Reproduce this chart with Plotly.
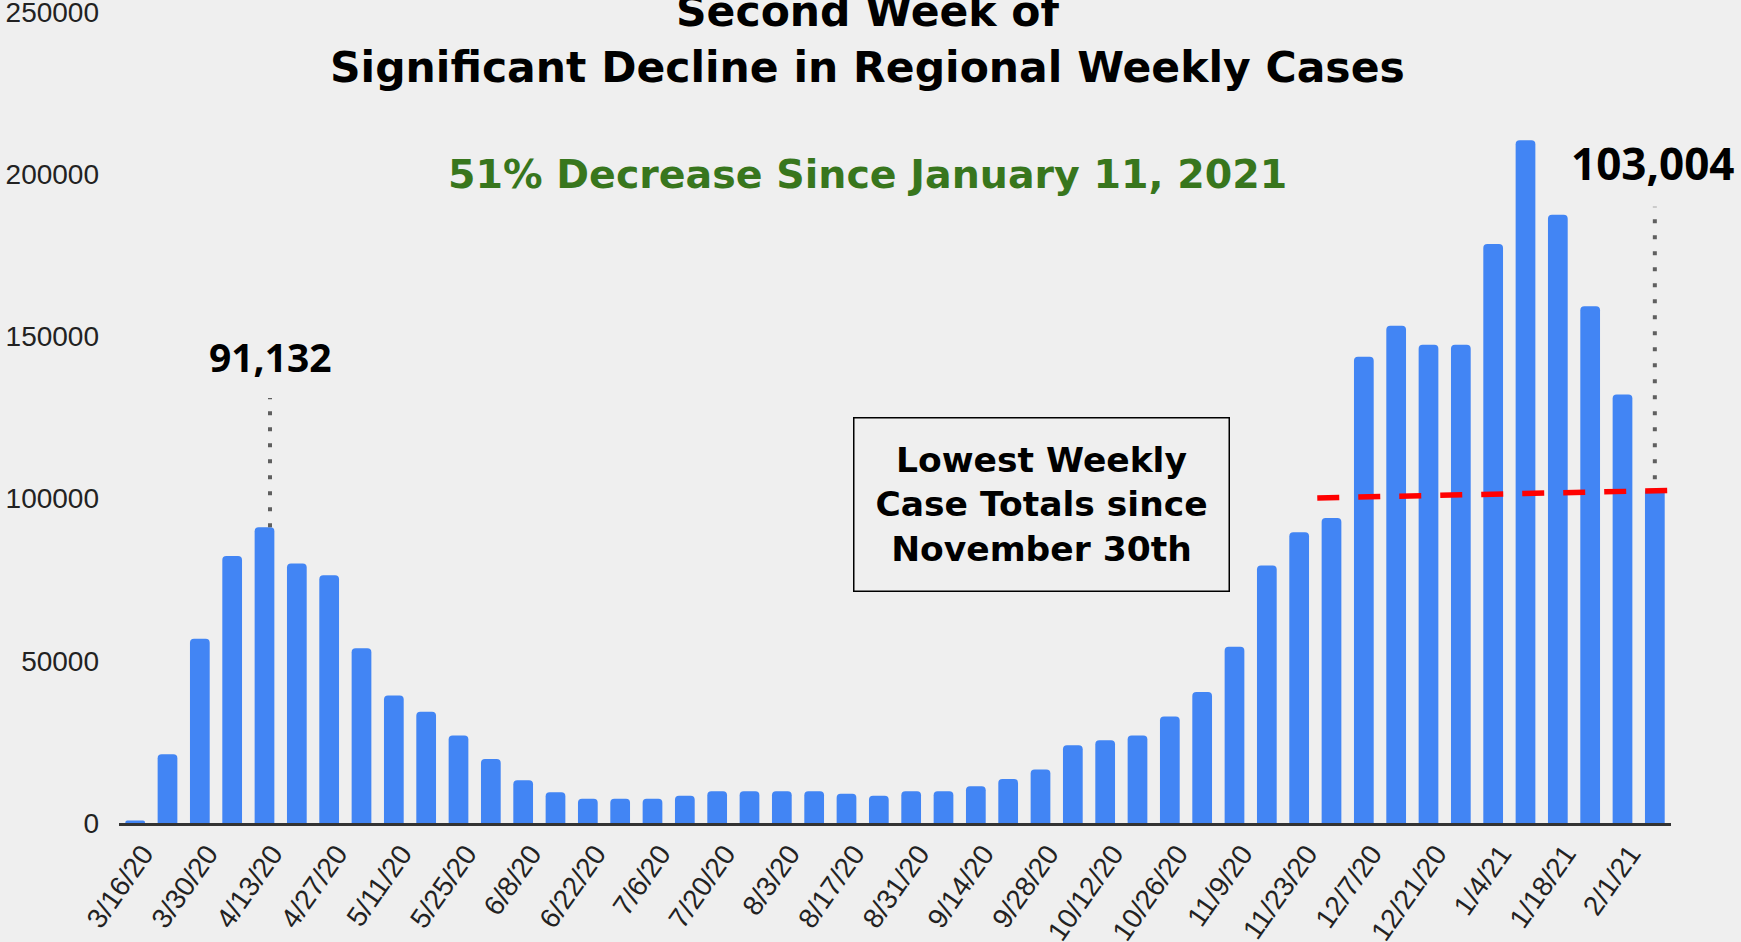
import plotly.graph_objects as go

weeks = ["3/16/20", "3/23/20", "3/30/20", "4/6/20", "4/13/20", "4/20/20", "4/27/20",
         "5/4/20", "5/11/20", "5/18/20", "5/25/20", "6/1/20", "6/8/20", "6/15/20",
         "6/22/20", "6/29/20", "7/6/20", "7/13/20", "7/20/20", "7/27/20", "8/3/20",
         "8/10/20", "8/17/20", "8/24/20", "8/31/20", "9/7/20", "9/14/20", "9/21/20",
         "9/28/20", "10/5/20", "10/12/20", "10/19/20", "10/26/20", "11/2/20", "11/9/20",
         "11/16/20", "11/23/20", "11/30/20", "12/7/20", "12/14/20", "12/21/20",
         "12/28/20", "1/4/21", "1/11/21", "1/18/21", "1/25/21", "2/1/21", "2/8/21"]

cases = [800, 21200, 56800, 82300, 91132, 80000, 76400, 53900, 39300, 34300, 27000,
         19700, 13200, 9500, 7500, 7500, 7500, 8400, 9800, 9800, 9800, 9800, 9000, 8400,
         9800, 9800, 11300, 13600, 16500, 24000, 25500, 27000, 32800, 40400, 54300,
         79400, 89600, 94000, 143700, 153300, 147400, 147400, 178500, 210500, 187500,
         159300, 132100, 103004]

tick_labels = weeks[::2]
y_ticks = [0, 50000, 100000, 150000, 200000, 250000]

first_peak_label = "91,132"
last_week_label = "103,004"
trend_start_value = 100200
trend_end_value = 102500

title_line1 = "Second Week of"
title_line2 = "Significant Decline in Regional Weekly Cases"
subtitle = "51% Decrease Since January 11, 2021"
box_text = "Lowest Weekly<br>Case Totals since<br>November 30th"

BG = "#efefef"
BLUE = "#4285f4"
GREEN = "#38761d"
WIDE_BOLD = "DejaVu Sans"
NUM_BOLD = "Open Sans"
TICK_FONT = "Liberation Sans, Arial, sans-serif"

fig = go.Figure()
fig.add_trace(go.Bar(x=weeks, y=cases, marker=dict(color=BLUE, cornerradius=4, line=dict(width=0)),
                     hoverinfo="x+y"))

idx_peak = weeks.index("4/13/20")
idx_last = len(weeks) - 1

# dotted leader lines
fig.add_shape(type="line", xref="x", yref="y", x0=idx_peak + 0.17, x1=idx_peak + 0.17,
              y0=cases[idx_peak], y1=131000,
              line=dict(color="#5f5f5f", width=4, dash="4px,12px"))
fig.add_shape(type="line", xref="x", yref="y", x0=idx_last, x1=idx_last,
              y0=106000, y1=190000,
              line=dict(color="#5f5f5f", width=4, dash="4px,12px"))
# red dashed reference line
fig.add_shape(type="line", xref="x", yref="y", x0=36.56, x1=47.4,
              y0=trend_start_value, y1=trend_end_value,
              line=dict(color="#ff0000", width=5.5, dash="22px,19px"))

fig.add_annotation(text=title_line1, xref="paper", yref="paper", x=0.4826, y=1.0012,
                   showarrow=False, yanchor="middle",
                   font=dict(family=WIDE_BOLD, weight=700, color="#000000", size=42.5))
fig.add_annotation(text=title_line2, xref="paper", yref="paper", x=0.4826, y=0.932,
                   showarrow=False, yanchor="middle",
                   font=dict(family=WIDE_BOLD, weight=700, color="#000000", size=42.5))
fig.add_annotation(text=subtitle, xref="paper", yref="paper", x=0.4826, y=0.800,
                   showarrow=False, yanchor="middle",
                   font=dict(family=WIDE_BOLD, weight=700, color=GREEN, size=39.5))
fig.add_annotation(text=first_peak_label, xref="x", yref="y", x=idx_peak + 0.17, y=143800,
                   showarrow=False, yanchor="middle",
                   font=dict(family=NUM_BOLD, weight=700, color="#000000", size=39))
fig.add_annotation(text=last_week_label, xref="x", yref="y", x=idx_last - 0.05, y=203500,
                   showarrow=False, yanchor="middle",
                   font=dict(family=NUM_BOLD, weight=700, color="#000000", size=44))
fig.add_annotation(text=box_text, xref="paper", yref="paper", x=0.5947, y=0.3927,
                   showarrow=False, align="center", xanchor="center", yanchor="middle",
                   font=dict(family=WIDE_BOLD, weight=700, color="#000000", size=34.5),
                   bordercolor="#000000", borderwidth=1.5, borderpad=12,
                   width=350, height=148, bgcolor=BG)

fig.update_layout(
    width=1741, height=942,
    margin=dict(l=119, r=70, t=12, b=119, autoexpand=False),
    paper_bgcolor=BG, plot_bgcolor=BG,
    showlegend=False,
    bargap=0.39,
    xaxis=dict(type="category", tickmode="array", tickvals=tick_labels, ticktext=tick_labels,
               tickangle=-55, showgrid=False, zeroline=False, showline=True,
               linecolor="#333333", linewidth=3, ticks="", automargin=False,
               ticklabelshift=8,
               tickfont=dict(family=TICK_FONT, size=28, color="#222222"),
               range=[-0.5, len(weeks) - 0.5]),
    yaxis=dict(range=[0, 250000], tickmode="array", tickvals=y_ticks, tickformat="d",
               showgrid=False, zeroline=False, showline=False, ticks="",
               ticklabelstandoff=19, ticklabeloverflow="allow", automargin=False,
               tickfont=dict(family=TICK_FONT, size=28, color="#222222")),
)

fig.write_html("out.html", config={"displayModeBar": False},
               post_script="document.body.style.margin='0px';")
